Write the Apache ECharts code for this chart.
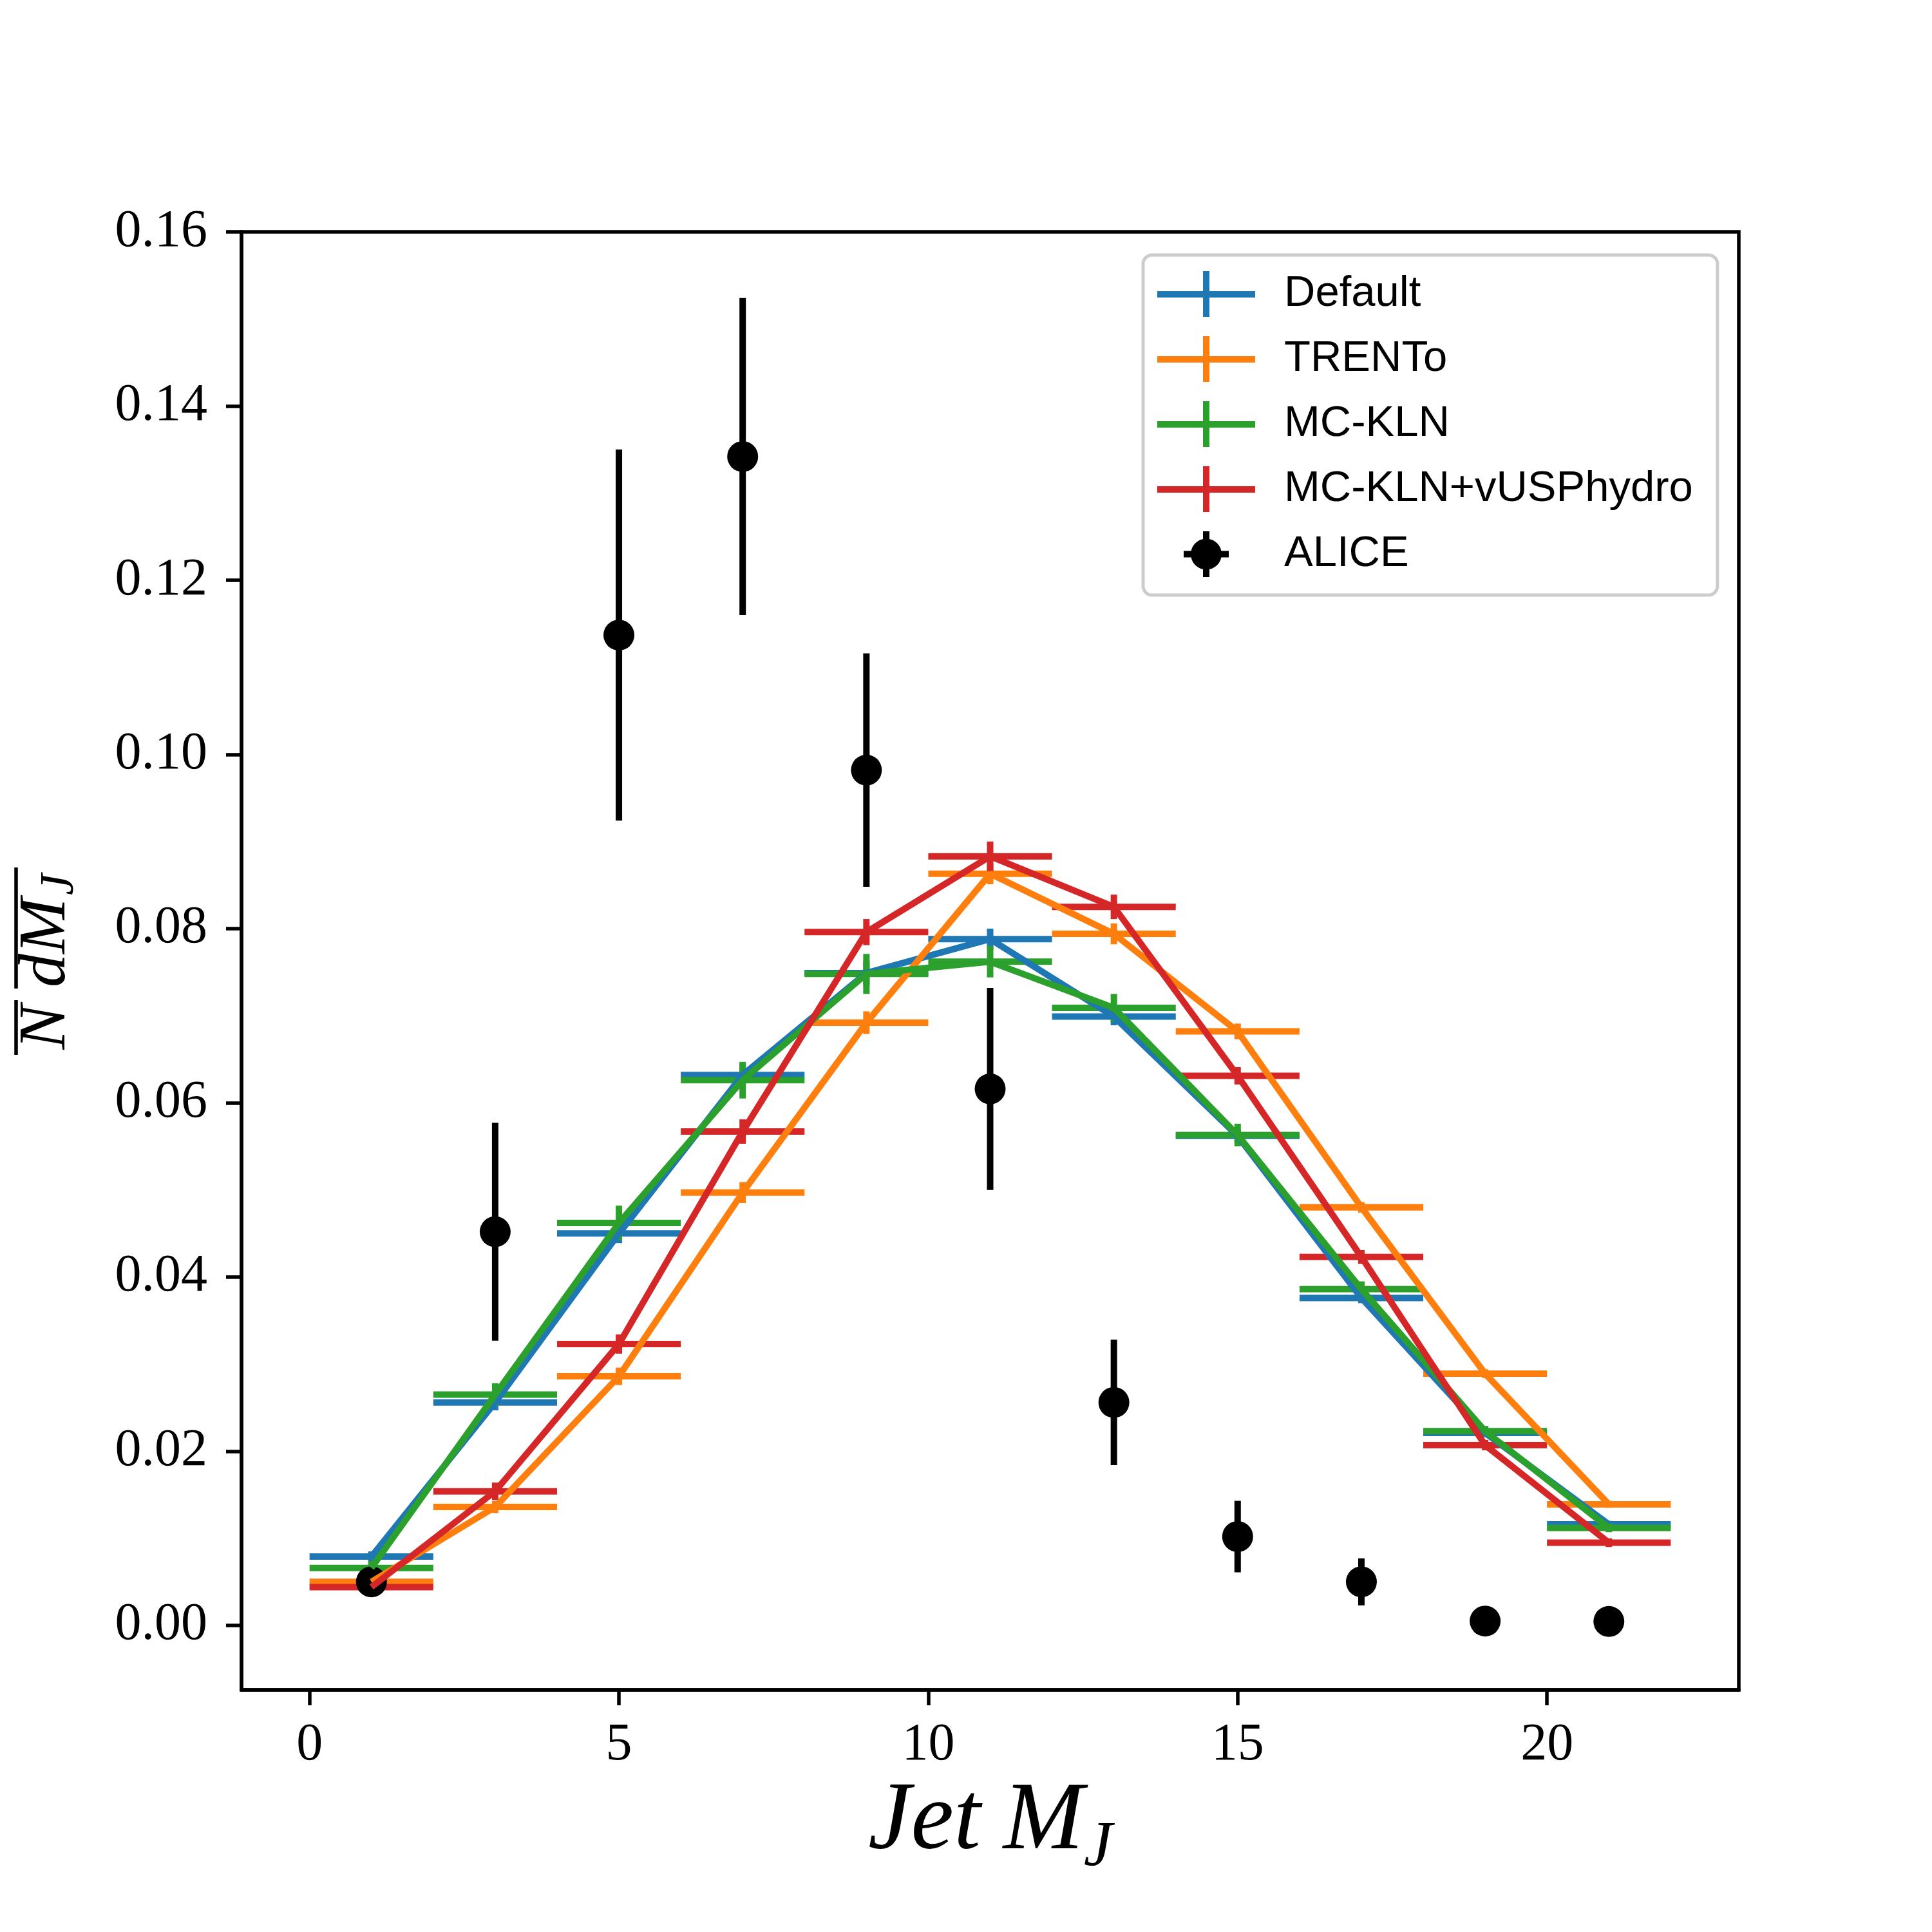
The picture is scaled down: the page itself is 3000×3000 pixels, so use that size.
<!DOCTYPE html>
<html>
<head>
<meta charset="utf-8">
<script src="https://cdn.jsdelivr.net/npm/echarts@6/dist/echarts.min.js"></script>
<style>
  html, body { margin: 0; padding: 0; background: #fff; }
  #chart { width: 3000px; height: 3000px; }
</style>
</head>
<body>
<div id="chart"></div>
<script>
// bins (centre of each 2-wide bin)
var binCenters = [1, 3, 5, 7, 9, 11, 13, 15, 17, 19, 21];
var binHalfWidth = 1;

// model curves + their stat. errors
var defaultVals = [0.0079, 0.0256, 0.0450, 0.0632, 0.0749, 0.0788, 0.0699, 0.0562, 0.0376, 0.0221, 0.0116];
var defaultErr  = [0.0006, 0.0009, 0.0011, 0.0013, 0.0014, 0.0012, 0.0010, 0.0008, 0.0006, 0.0005, 0.0004];
var trentoVals  = [0.0050, 0.0136, 0.0286, 0.0497, 0.0692, 0.0863, 0.0794, 0.0682, 0.0480, 0.0289, 0.0139];
var trentoErr   = [0.0005, 0.0007, 0.0010, 0.0012, 0.0013, 0.0012, 0.0012, 0.0009, 0.0006, 0.0005, 0.0004];
var mcklnVals   = [0.0066, 0.0265, 0.0462, 0.0626, 0.0748, 0.0762, 0.0709, 0.0563, 0.0386, 0.0223, 0.0112];
var mcklnErr    = [0.0008, 0.0013, 0.0020, 0.0021, 0.0023, 0.0018, 0.0016, 0.0013, 0.0009, 0.0006, 0.0005];
var hydroVals   = [0.0044, 0.0154, 0.0323, 0.0567, 0.0796, 0.0883, 0.0825, 0.0631, 0.0423, 0.0207, 0.0095];
var hydroErr    = [0.0006, 0.0010, 0.0011, 0.0014, 0.0015, 0.0017, 0.0014, 0.0010, 0.0008, 0.0006, 0.0005];

// ALICE data
var aliceVals = [0.0050, 0.0452, 0.1137, 0.1342, 0.0982, 0.0616, 0.0256, 0.0102, 0.0050, 0.0005, 0.00045];
var aliceErr  = [0.0015, 0.0125, 0.0213, 0.0182, 0.0134, 0.0116, 0.0072, 0.0041, 0.0027, 0.0002, 0.0002];

// axis ticks
var xTicks = [0, 5, 10, 15, 20];
var yTicks = [0, 0.02, 0.04, 0.06, 0.08, 0.10, 0.12, 0.14, 0.16];

var models = [
    {name: 'Default', color: '#1f77b4', vals: defaultVals, err: defaultErr},
    {name: 'TRENTo', color: '#ff7f0e', vals: trentoVals, err: trentoErr},
    {name: 'MC-KLN', color: '#2ca02c', vals: mcklnVals, err: mcklnErr},
    {name: 'MC-KLN+vUSPhydro', color: '#d62728', vals: hydroVals, err: hydroErr}
];

var LW = 10;
var serifFont = 'Liberation Serif';

// error bar cross, drawn through the axes
function errRender(color) {
    return function (params, api) {
        var x = api.value(0), y = api.value(1), e = api.value(2), hw = api.value(3);
        var kids = [];
        if (hw > 0) {
            var l = api.coord([x - hw, y]), r = api.coord([x + hw, y]);
            kids.push({type: 'line', shape: {x1: l[0], y1: l[1], x2: r[0], y2: r[1]},
                style: {stroke: color, lineWidth: LW}});
        }
        var t = api.coord([x, y + e]), b = api.coord([x, y - e]);
        kids.push({type: 'line', shape: {x1: t[0], y1: t[1], x2: b[0], y2: b[1]},
            style: {stroke: color, lineWidth: LW}});
        return {type: 'group', children: kids};
    };
}

var series = [];
models.forEach(function (m) {
    series.push({
        name: m.name,
        type: 'custom',
        renderItem: errRender(m.color),
        encode: {x: 0, y: 1},
        data: binCenters.map(function (x, i) { return [x, m.vals[i], m.err[i], binHalfWidth]; }),
        itemStyle: {color: m.color},
        silent: true
    });
    series.push({
        name: m.name,
        type: 'line',
        symbol: 'none',
        data: binCenters.map(function (x, i) { return [x, m.vals[i]]; }),
        lineStyle: {color: m.color, width: LW},
        itemStyle: {color: m.color},
        silent: true
    });
});
series.push({
    name: 'ALICE',
    type: 'custom',
    renderItem: errRender('#000'),
    encode: {x: 0, y: 1},
    data: binCenters.map(function (x, i) { return [x, aliceVals[i], aliceErr[i], 0]; }),
    itemStyle: {color: '#000'},
    silent: true
});
series.push({
    name: 'ALICE',
    type: 'scatter',
    symbol: 'circle',
    symbolSize: 48,
    data: binCenters.map(function (x, i) { return [x, aliceVals[i]]; }),
    itemStyle: {color: '#000', opacity: 1},
    silent: true
});

// legend handles (152 x 71 box)
var crossIcon = 'path://M0,31 L152,31 L152,41 L0,41 Z M71,0 L81,0 L81,71 L71,71 Z';
var aliceIcon = 'path://M0,35 L0.01,35 Z M152,35 L151.99,35 Z ' +
    'M52,35.5 A24,24 0 1,1 100,35.5 A24,24 0 1,1 52,35.5 Z ' +
    'M71,0 L81,0 L81,71 L71,71 Z M41,30.5 L111,30.5 L111,40.5 L41,40.5 Z';

var legendData = models.map(function (m) {
    return {name: m.name, icon: crossIcon, itemStyle: {color: m.color, borderWidth: 0}};
});
legendData.push({name: 'ALICE', icon: aliceIcon, itemStyle: {color: '#000', borderWidth: 0, opacity: 1}});

var myChart = echarts.init(document.getElementById('chart'));

var option = {
    animation: false,
    backgroundColor: '#fff',
    grid: {
        left: 375, top: 360, width: 2325, height: 2264,
        show: true, borderColor: '#000', borderWidth: 5.5, backgroundColor: 'transparent'
    },
    legend: {
        orient: 'vertical',
        left: 1775, top: 396,
        padding: [25, 38, 28, 22],
        itemGap: 30,
        itemWidth: 152,
        itemHeight: 71,
        selectedMode: false,
        backgroundColor: 'rgba(255,255,255,0.8)',
        borderColor: '#cccccc',
        borderWidth: 5,
        borderRadius: 14,
        itemStyle: {borderWidth: 0},
        formatter: '{t|{name}}',
        textStyle: {
            rich: {
                t: {fontFamily: 'Liberation Sans', fontSize: 67, color: '#000',
                    lineHeight: 71, padding: [0, 0, 0, 40]}
            }
        },
        data: legendData
    },
    xAxis: {
        type: 'value',
        min: -1.1, max: 23.1,
        axisLine: {show: true, onZero: false, lineStyle: {color: '#000', width: 5.5}},
        axisTick: {show: true, inside: false, length: 24, customValues: xTicks,
            lineStyle: {color: '#000', width: 5.5}},
        axisLabel: {show: true, customValues: xTicks, margin: 45,
            fontFamily: serifFont, fontSize: 82, color: '#000',
            formatter: function (v) { return String(v); }},
        splitLine: {show: false},
        name: '{a|Jet}{b|M}{s|J}',
        nameLocation: 'middle',
        nameGap: 114,
        nameTextStyle: {
            rich: {
                a: {fontFamily: serifFont, fontStyle: 'italic', fontSize: 150, color: '#000',
                    lineHeight: 150, verticalAlign: 'middle'},
                b: {fontFamily: serifFont, fontStyle: 'italic', fontSize: 150, color: '#000',
                    lineHeight: 150, verticalAlign: 'middle', padding: [0, 0, 0, 35]},
                s: {fontFamily: serifFont, fontStyle: 'italic', fontSize: 100, color: '#000',
                    lineHeight: 100, verticalAlign: 'bottom', padding: [0, 0, -14, 0]}
            }
        }
    },
    yAxis: {
        type: 'value',
        min: -0.0074, max: 0.16,
        axisLine: {show: true, onZero: false, lineStyle: {color: '#000', width: 5.5}},
        axisTick: {show: true, inside: false, length: 24, customValues: yTicks,
            lineStyle: {color: '#000', width: 5.5}},
        axisLabel: {show: true, customValues: yTicks, margin: 53,
            fontFamily: serifFont, fontSize: 82, color: '#000',
            formatter: function (v) { return v.toFixed(2); }},
        splitLine: {show: false}
    },
    graphic: [{
        // y label: 1/N dN/dM_J, rotated, partly off the left edge like the original
        type: 'group',
        x: 25, y: 1640,
        rotation: Math.PI / 2,
        silent: true,
        children: [
            {type: 'rect', shape: {x: 2, y: -2.75, width: 85, height: 5.5}, style: {fill: '#000'}},
            {type: 'rect', shape: {x: 105, y: -2.75, width: 188, height: 5.5}, style: {fill: '#000'}},
            {type: 'text', style: {text: '1', x: 45, y: -2, align: 'center', verticalAlign: 'bottom',
                font: '104px "Liberation Serif"', fill: '#000'}},
            {type: 'text', style: {text: 'dN', x: 199, y: -2, align: 'center', verticalAlign: 'bottom',
                font: 'italic 104px "Liberation Serif"', fill: '#000'}},
            {type: 'text', style: {text: 'N', x: 45, y: -4, align: 'center', verticalAlign: 'top',
                font: 'italic 104px "Liberation Serif"', fill: '#000'}},
            {type: 'text', style: {text: 'dM', x: 107, y: -4, align: 'left', verticalAlign: 'top',
                font: 'italic 104px "Liberation Serif"', fill: '#000'}},
            {type: 'text', style: {text: 'J', x: 250, y: 32, align: 'left', verticalAlign: 'top',
                font: 'italic 74px "Liberation Serif"', fill: '#000'}}
        ]
    }],
    series: series
};

myChart.setOption(option);
</script>
</body>
</html>
